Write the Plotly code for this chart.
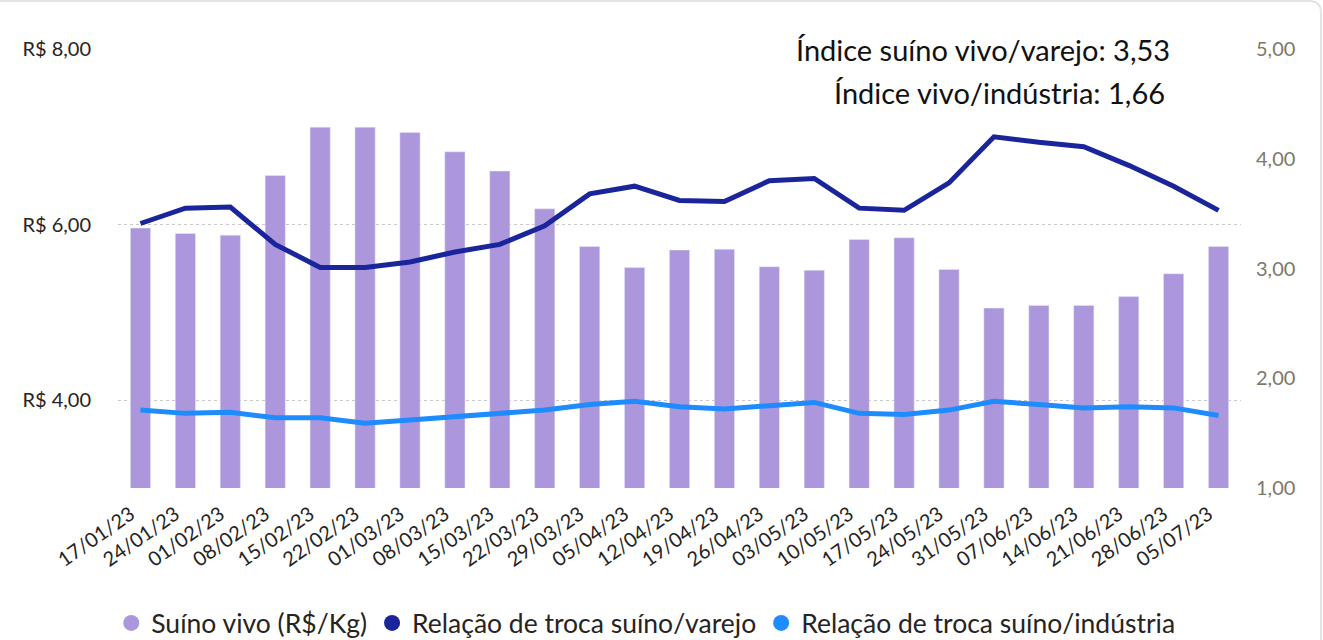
import plotly.graph_objects as go

dates = ["17/01/23", "24/01/23", "01/02/23", "08/02/23", "15/02/23", "22/02/23", "01/03/23",
         "08/03/23", "15/03/23", "22/03/23", "29/03/23", "05/04/23", "12/04/23", "19/04/23",
         "26/04/23", "03/05/23", "10/05/23", "17/05/23", "24/05/23", "31/05/23", "07/06/23",
         "14/06/23", "21/06/23", "28/06/23", "05/07/23"]

suino_vivo = [5.96, 5.90, 5.88, 6.56, 7.11, 7.11, 7.05, 6.83, 6.61, 6.18, 5.75, 5.51, 5.71,
              5.72, 5.52, 5.48, 5.83, 5.85, 5.49, 5.05, 5.08, 5.08, 5.18, 5.44, 5.75]

troca_varejo = [3.41, 3.55, 3.56, 3.22, 3.01, 3.01, 3.06, 3.15, 3.22, 3.39, 3.68, 3.75, 3.62,
                3.61, 3.80, 3.82, 3.55, 3.53, 3.78, 4.20, 4.15, 4.11, 3.94, 3.75, 3.53]

troca_industria = [1.71, 1.68, 1.69, 1.64, 1.64, 1.59, 1.62, 1.65, 1.67, 1.71, 1.76, 1.79, 1.74,
                   1.72, 1.75, 1.78, 1.68, 1.67, 1.71, 1.79, 1.76, 1.73, 1.74, 1.73, 1.66]

left_ticks = [4, 6, 8]
left_ticktext = ["R$ 4,00", "R$ 6,00", "R$ 8,00"]
right_ticks = [1, 2, 3, 4, 5]
right_ticktext = ["1,00", "2,00", "3,00", "4,00", "5,00"]

names = ["Suíno vivo (R$/Kg)", "Relação de troca suíno/varejo", "Relação de troca suíno/indústria"]
annot_lines = ["Índice suíno vivo/varejo: 3,53", "Índice vivo/indústria: 1,66"]

c_bar = "#AD97DC"
c_dark = "#1B259B"
c_light = "#1E8CFF"
FONT = "Lato"

W, H = 1323, 640
ML, MR, MT, MB = 118, 82, 49, 152
PW, PH = W - ML - MR, H - MT - MB


def px(x):
    return (x - ML) / PW


def py(y):
    return (H - MB - y) / PH


fig = go.Figure()
fig.add_trace(go.Bar(x=dates, y=suino_vivo, marker_color=c_bar, width=0.45,
                     showlegend=False, yaxis="y"))
fig.add_trace(go.Scatter(x=dates, y=troca_varejo, mode="lines",
                         line=dict(color=c_dark, width=5), showlegend=False, yaxis="y2"))
fig.add_trace(go.Scatter(x=dates, y=troca_industria, mode="lines",
                         line=dict(color=c_light, width=5), showlegend=False, yaxis="y2"))

for nm, col in zip(names, [c_bar, c_dark, c_light]):
    fig.add_trace(go.Scatter(x=[None], y=[None], mode="markers", name=nm,
                             marker=dict(color=col, size=20, symbol="circle"), yaxis="y2"))

fig.update_layout(
    width=W, height=H,
    margin=dict(l=ML, r=MR, t=MT, b=MB, autoexpand=False),
    paper_bgcolor="white", plot_bgcolor="white",
    font=dict(family=FONT, color="#252423"),
    bargap=0.55,
    xaxis=dict(type="category", tickangle=-35, tickfont=dict(size=20, color="#252423"),
               showgrid=False, showline=False, zeroline=False, ticks="",
               ticklabelstandoff=10, ticklabelshift=-10, automargin=False),
    yaxis=dict(range=[3, 8], tickvals=left_ticks, ticktext=left_ticktext,
               tickfont=dict(size=20, color="#252423"),
               showgrid=True, gridcolor="#c8c8c8", griddash="dot", gridwidth=1,
               zeroline=False, showline=False, ticks="", ticklabelstandoff=26,
               automargin=False),
    yaxis2=dict(range=[1, 5], overlaying="y", side="right", tickvals=right_ticks,
                ticktext=right_ticktext, tickfont=dict(size=20, color="#7d776c"),
                showgrid=False, zeroline=False, showline=False, ticks="",
                ticklabelstandoff=14, automargin=False),
    legend=dict(orientation="h", x=-0.006, y=-0.308, xanchor="left", yanchor="middle",
                font=dict(size=26.5, color="#252423"), itemsizing="trace",
                itemwidth=30, tracegroupgap=0, traceorder="normal"),
    showlegend=True,
)

fig.add_annotation(text=annot_lines[0], xref="paper", yref="paper", x=0.939, y=1.0,
                   xanchor="right", yanchor="middle", showarrow=False,
                   font=dict(size=29, color="#111111", family=FONT))
fig.add_annotation(text=annot_lines[1], xref="paper", yref="paper", x=0.934, y=0.9,
                   xanchor="right", yanchor="middle", showarrow=False,
                   font=dict(size=29, color="#111111", family=FONT))

# faint card border (top edge and rounded top-right corner)
border = (f"M {px(0)},{py(1)} L {px(1309)},{py(1)} "
          f"Q {px(1321)},{py(1)} {px(1321)},{py(13)} L {px(1321)},{py(640)}")
fig.add_shape(type="path", path=border, xref="paper", yref="paper",
              line=dict(color="#e4e4e4", width=2), layer="below")

fig.write_html("out.html", config={"displayModeBar": False},
               post_script="document.body.style.margin='0';")
